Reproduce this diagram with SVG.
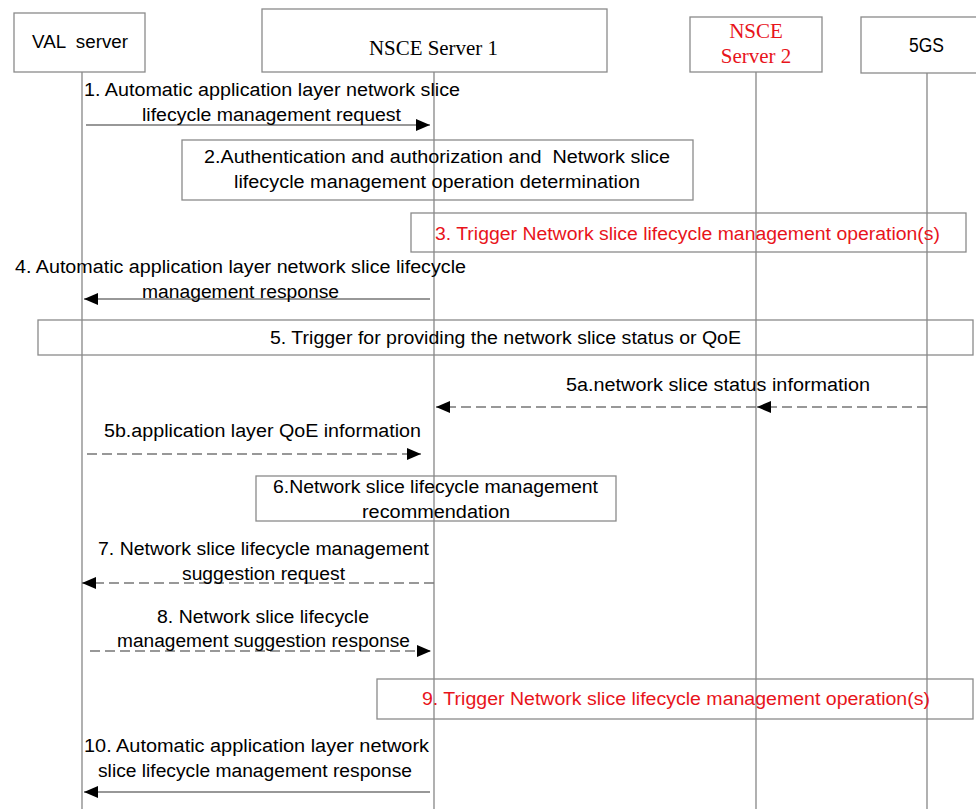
<svg xmlns="http://www.w3.org/2000/svg" width="976" height="809" viewBox="0 0 976 809">
<defs>
<style>
.box{fill:none;stroke:#8a8a8a;stroke-width:1.3}
.life{stroke:#707070;stroke-width:1.1}
.msg{stroke:#333;stroke-width:1.1;fill:none}
.dash{stroke:#777;stroke-width:1.3;stroke-dasharray:10,5;fill:none}
.t{font-family:"Liberation Sans Narrow","Liberation Sans",Arial,sans-serif;font-size:18px;fill:#000}
.r{fill:#e8141b}
.serif{font-family:"Liberation Serif","Times New Roman",serif;font-size:21px}
</style>
<marker id="ah" viewBox="0 0 14 12" refX="14" refY="6" markerWidth="14" markerHeight="12" markerUnits="userSpaceOnUse" orient="auto">
<path d="M0,0 L14,6 L0,12 Z" fill="#000"/>
</marker>
</defs>
<rect width="976" height="809" fill="#fff"/>
<g id="lifelines">
<line class="life" x1="82" y1="72" x2="82" y2="809"/>
<line class="life" x1="434" y1="72" x2="434" y2="809"/>
<line class="life" x1="756" y1="72" x2="756" y2="809"/>
<line class="life" x1="927" y1="73" x2="927" y2="809"/>
</g>
<g id="val">
<rect class="box" x="14" y="13" width="131" height="59"/>
<text class="t" x="32" y="48" textLength="96" lengthAdjust="spacingAndGlyphs" xml:space="preserve">VAL  server</text>
</g>
<g id="nsce1">
<rect class="box" x="262" y="9" width="345" height="63"/>
<text class="t serif" x="369" y="55" textLength="129" lengthAdjust="spacingAndGlyphs">NSCE Server 1</text>
</g>
<g id="nsce2">
<rect class="box" x="690" y="17" width="132" height="55"/>
<text class="t serif r" x="756" y="38" text-anchor="middle">NSCE</text>
<text class="t serif r" x="756" y="63" text-anchor="middle">Server 2</text>
</g>
<g id="fivegs">
<rect class="box" x="861" y="17" width="118" height="56"/>
<text class="t" x="909" y="52" textLength="35" lengthAdjust="spacingAndGlyphs" style="font-size:20px">5GS</text>
</g>
<g id="connectors">
<line class="msg" x1="86" y1="125" x2="430" y2="125" marker-end="url(#ah)"/>
<line class="msg" x1="430" y1="299" x2="84" y2="299" marker-end="url(#ah)"/>
<line class="dash" x1="927" y1="407" x2="757" y2="407" marker-end="url(#ah)"/>
<line class="dash" x1="756" y1="407" x2="436" y2="407" marker-end="url(#ah)"/>
<line class="dash" x1="87" y1="454" x2="421" y2="454" marker-end="url(#ah)"/>
<line class="dash" x1="434" y1="583" x2="82" y2="583" marker-end="url(#ah)"/>
<line class="dash" x1="90" y1="651" x2="431" y2="651" marker-end="url(#ah)"/>
<line class="msg" x1="430" y1="792" x2="84" y2="792" marker-end="url(#ah)"/>
</g>
<g id="msg1">
<text class="t" x="84" y="96" textLength="376" lengthAdjust="spacingAndGlyphs">1. Automatic application layer network slice</text>
<text class="t" x="142" y="121" textLength="259" lengthAdjust="spacingAndGlyphs">lifecycle management request</text>
</g>
<g id="step2">
<rect class="box" x="182" y="140" width="511" height="60"/>
<text class="t" x="204" y="163" textLength="466" lengthAdjust="spacingAndGlyphs" xml:space="preserve">2.Authentication and authorization and  Network slice</text>
<text class="t" x="234" y="188" textLength="406" lengthAdjust="spacingAndGlyphs">lifecycle management operation determination</text>
</g>
<g id="step3">
<rect class="box" x="411" y="213" width="555" height="39"/>
<text class="t r" x="435" y="240" textLength="505" lengthAdjust="spacingAndGlyphs">3. Trigger Network slice lifecycle management operation(s)</text>
</g>
<g id="msg4">
<text class="t" x="15" y="273" textLength="451" lengthAdjust="spacingAndGlyphs">4. Automatic application layer network slice lifecycle</text>
<text class="t" x="142" y="298" textLength="197" lengthAdjust="spacingAndGlyphs">management response</text>
</g>
<g id="step5">
<rect class="box" x="38" y="320" width="935" height="35"/>
<text class="t" x="270" y="344" textLength="471" lengthAdjust="spacingAndGlyphs">5. Trigger for providing the network slice status or QoE</text>
</g>
<g id="msg5a">
<text class="t" x="566" y="391" textLength="304" lengthAdjust="spacingAndGlyphs">5a.network slice status information</text>
</g>
<g id="msg5b">
<text class="t" x="104" y="437" textLength="317" lengthAdjust="spacingAndGlyphs">5b.application layer QoE information</text>
</g>
<g id="step6">
<rect class="box" x="256" y="476" width="360" height="45"/>
<text class="t" x="273" y="493" textLength="325" lengthAdjust="spacingAndGlyphs">6.Network slice lifecycle management</text>
<text class="t" x="362" y="518" textLength="148" lengthAdjust="spacingAndGlyphs">recommendation</text>
</g>
<g id="msg7">
<text class="t" x="98" y="555" textLength="331" lengthAdjust="spacingAndGlyphs">7. Network slice lifecycle management</text>
<text class="t" x="182" y="580" textLength="163" lengthAdjust="spacingAndGlyphs">suggestion request</text>
</g>
<g id="msg8">
<text class="t" x="157" y="623" textLength="212" lengthAdjust="spacingAndGlyphs">8. Network slice lifecycle</text>
<text class="t" x="117" y="647" textLength="293" lengthAdjust="spacingAndGlyphs">management suggestion response</text>
</g>
<g id="step9">
<rect class="box" x="377" y="679" width="596" height="40"/>
<text class="t r" x="422" y="705" textLength="508" lengthAdjust="spacingAndGlyphs">9. Trigger Network slice lifecycle management operation(s)</text>
</g>
<g id="msg10">
<text class="t" x="84" y="752" textLength="345" lengthAdjust="spacingAndGlyphs">10. Automatic application layer network</text>
<text class="t" x="98" y="777" textLength="314" lengthAdjust="spacingAndGlyphs">slice lifecycle management response</text>
</g>
</svg>
